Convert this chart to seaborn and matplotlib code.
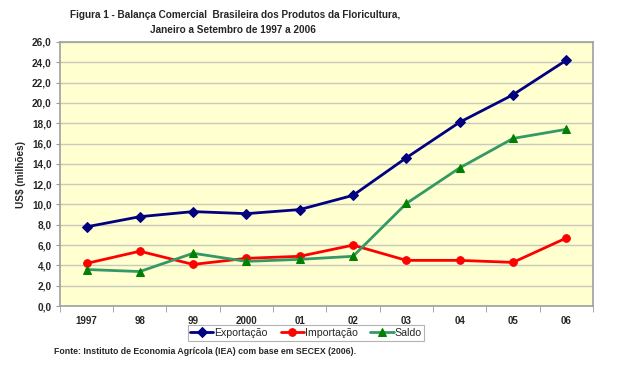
import numpy as np
import pandas as pd
import seaborn as sns
import matplotlib.pyplot as plt
from matplotlib.ticker import FixedLocator, MultipleLocator

# --------------------
# Data
# --------------------
anos = ["1997", "98", "99", "2000", "01", "02", "03", "04", "05", "06"]
exportacao = [7.8, 8.8, 9.3, 9.1, 9.5, 10.9, 14.6, 18.1, 20.8, 24.2]
importacao = [4.2, 5.4, 4.1, 4.7, 4.9, 6.0, 4.5, 4.5, 4.3, 6.7]
saldo = [3.6, 3.4, 5.2, 4.4, 4.6, 4.9, 10.1, 13.6, 16.5, 17.4]

series = {
    "Exportação": (exportacao, "#000080", "#000080", "D", 5),
    "Importação": (importacao, "#FF0000", "#FF0000", "o", 5.5),
    "Saldo": (saldo, "#339966", "#008000", "^", 6),
}


def main():
    sns.set_style("white")
    plt.rcParams["font.family"] = ["Liberation Sans", "DejaVu Sans"]

    fig = plt.figure(figsize=(6.17, 3.85), dpi=100)
    ax = fig.add_axes([0.097, 0.205, 0.864, 0.686])
    ax.set_facecolor("#FFFFD0")

    pos = np.arange(len(anos))
    for nome, (vals, lc, mc, mk, ms) in series.items():
        df = pd.DataFrame({"x": pos, "y": vals})
        sns.lineplot(data=df, x="x", y="y", ax=ax, color=lc, linewidth=2,
                     marker=mk, markersize=ms,
                     markerfacecolor=mc, markeredgecolor=mc, label=nome)

    ax.set_xlim(-0.5, len(anos) - 0.5)
    ax.set_ylim(0, 26)
    ax.yaxis.set_major_locator(MultipleLocator(2))
    ax.set_yticklabels([f"{v:.1f}".replace(".", ",") for v in ax.get_yticks()])
    ax.grid(axis="y", color="#CACABC", linewidth=1)
    ax.set_axisbelow(True)

    ax.xaxis.set_major_locator(FixedLocator(pos))
    ax.set_xticklabels(anos)
    ax.xaxis.set_minor_locator(FixedLocator(np.arange(-0.5, len(anos), 1)))
    ax.tick_params(axis="x", which="major", length=0, pad=7, labelsize=7)
    ax.tick_params(axis="x", which="minor", length=4, color="#999999", direction="out", bottom=True)
    ax.tick_params(axis="y", length=3, color="#999999", direction="out", left=True, labelsize=7.2, pad=3)
    for lbl in ax.get_xticklabels() + ax.get_yticklabels():
        lbl.set_fontweight("bold")

    for s in ax.spines.values():
        s.set_color("#A0A0A0")
        s.set_linewidth(1.2)

    ax.set_xlabel("")
    ax.set_ylabel("US$ (milhões)", fontsize=7.2, fontweight="bold", labelpad=4)

    leg = ax.legend(loc="center", bbox_to_anchor=(306 / 617, 1 - 333 / 385),
                    bbox_transform=fig.transFigure, ncol=3, fontsize=7.6,
                    frameon=True, fancybox=False, edgecolor="#A0A0A0",
                    handlelength=2.2, handletextpad=0.1, columnspacing=1.2,
                    borderpad=0.25, borderaxespad=0)
    leg.get_frame().set_linewidth(0.8)

    fig.text(235 / 617, 1 - 15 / 385,
             "Figura 1 - Balança Comercial  Brasileira dos Produtos da Floricultura,",
             ha="center", va="center", fontsize=7.2, fontweight="bold")
    fig.text(233 / 617, 1 - 30 / 385, "Janeiro a Setembro de 1997 a 2006",
             ha="center", va="center", fontsize=7.2, fontweight="bold")
    fig.text(54 / 617, 1 - 351 / 385,
             "Fonte: Instituto de Economia Agrícola (IEA) com base em SECEX (2006).",
             ha="left", va="center", fontsize=6.3, fontweight="bold")

    fig.savefig("out.png", dpi=100)
    plt.close(fig)


if __name__ == "__main__":
    main()
